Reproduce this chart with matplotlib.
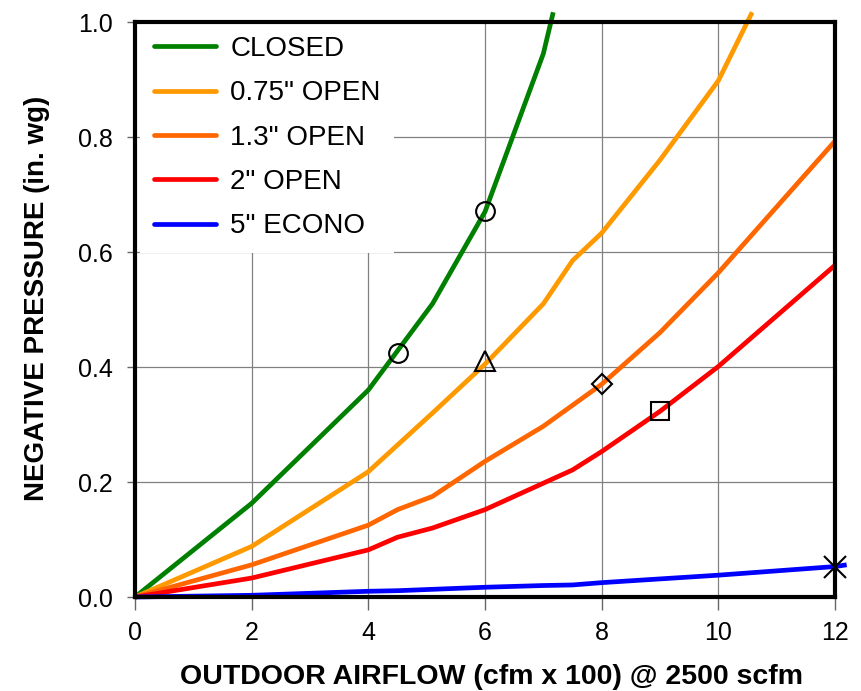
import matplotlib
matplotlib.use("Agg")
from matplotlib import pyplot as plt

# Outdoor airflow (cfm x 100) vs negative pressure (in. wg) per damper setting
closed_x = [0, 2, 4, 5.1, 6, 7, 7.17]
closed_y = [0, 0.163, 0.36, 0.51, 0.67, 0.945, 1.017]

open075_x = [0, 2, 4, 5.1, 6, 7, 7.5, 8, 9, 10, 10.58]
open075_y = [0, 0.088, 0.218, 0.32, 0.405, 0.51, 0.585, 0.633, 0.76, 0.898, 1.017]

open13_x = [0, 2, 4, 4.5, 5.1, 6, 7, 8, 9, 10, 12]
open13_y = [0, 0.056, 0.125, 0.152, 0.175, 0.236, 0.297, 0.37, 0.46, 0.564, 0.793]

open2_x = [0, 2, 4, 4.5, 5.1, 6, 7.5, 8, 9, 10, 12]
open2_y = [0, 0.033, 0.082, 0.104, 0.12, 0.152, 0.221, 0.253, 0.323, 0.401, 0.577]

econo_x = [0, 2, 4, 4.5, 6, 7, 7.5, 8, 10, 12, 12.2]
econo_y = [0, 0.003, 0.01, 0.011, 0.017, 0.02, 0.021, 0.025, 0.038, 0.053, 0.056]

# Operating points marked on the curves
point_x = [4.5, 6, 6, 8, 9, 12]
point_y = [0.425, 0.671, 0.41, 0.371, 0.323, 0.053]
point_marker = ['o', 'o', '^', 'D', 's', 'x']
point_size = [13.5, 13.5, 14, 10, 13, 16]

series = [
    (closed_x, closed_y, 'CLOSED', '#008000'),
    (open075_x, open075_y, '0.75" OPEN', '#FF9900'),
    (open13_x, open13_y, '1.3" OPEN', '#FF6600'),
    (open2_x, open2_y, '2" OPEN', '#FF0000'),
    (econo_x, econo_y, '5" ECONO', '#0000FF'),
]

plt.rcParams['font.family'] = ['Liberation Sans', 'DejaVu Sans']

fig = plt.figure(figsize=(8.61, 6.91), dpi=100)
ax = fig.add_axes([0.1568, 0.1360, 0.8130, 0.8321])

for xs, ys, name, color in series:
    ax.plot(xs, ys, color=color, lw=3.4, label=name, clip_on=False,
            solid_capstyle='butt', zorder=3)

for px, py, m, ms in zip(point_x, point_y, point_marker, point_size):
    ax.plot([px], [py], marker=m, ms=ms, mfc='none', mec='black', mew=1.5,
            linestyle='none', clip_on=False, zorder=4)

ax.set_xlim(0, 12)
ax.set_ylim(0, 1.0)
ax.set_xticks(range(0, 13, 2))
ax.set_yticks([0, 0.2, 0.4, 0.6, 0.8, 1.0])
ax.set_yticklabels([f'{v:.1f}' for v in [0, 0.2, 0.4, 0.6, 0.8, 1.0]])
ax.grid(True, color='#808080', lw=0.9, zorder=0)
ax.set_axisbelow(True)

for side in ax.spines.values():
    side.set_linewidth(3)
    side.set_color('black')
    side.set_zorder(5)

ax.tick_params(axis='both', direction='out', color='#666666', width=1, labelsize=18)
ax.tick_params(axis='x', length=9, pad=8)
ax.tick_params(axis='y', length=6, pad=10)

ax.set_xlabel('OUTDOOR AIRFLOW (cfm x 100) @ 2500 scfm', fontsize=20.5, fontweight='bold')
ax.set_ylabel('NEGATIVE PRESSURE (in. wg)', fontsize=20, fontweight='bold')
ax.xaxis.set_label_coords(0.509, -0.116)
ax.yaxis.set_label_coords(-0.122, 0.52)

leg = ax.legend(loc='upper left', bbox_to_anchor=(0.007, 1), borderaxespad=0,
                fontsize=20, frameon=True, fancybox=False, facecolor='white',
                edgecolor='none', framealpha=1, handlelength=2.25,
                handletextpad=0.5, labelspacing=0.66, borderpad=0.5)
leg.set_zorder(4.5)
for h in leg.get_lines():
    h.set_solid_capstyle('round')

fig.savefig('out.png', dpi=100)
